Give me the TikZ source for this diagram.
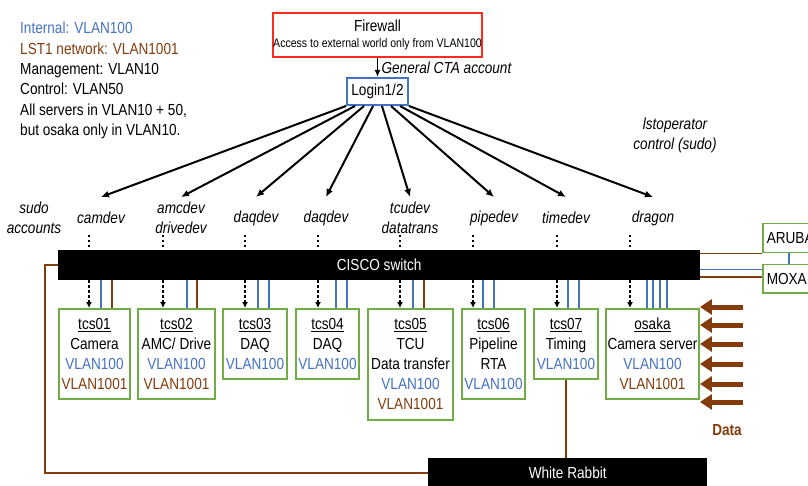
\documentclass[tikz,border=0pt]{standalone}
\usepackage{fontspec}
\setmainfont{Liberation Sans}[FakeStretch=0.85]
\usepackage{xcolor}
\usepackage{tikz}
\usetikzlibrary{arrows.meta,positioning,calc}

\definecolor{vlanblue}{HTML}{4472C4}
\definecolor{vlanbrown}{HTML}{843C0C}
\definecolor{boxgreen}{HTML}{70AD47}
\definecolor{fwred}{HTML}{FF2A1A}

\newcommand{\vlanint}{\textcolor{vlanblue}{VLAN100}}
\newcommand{\vlanlst}{\textcolor{vlanbrown}{VLAN1001}}

\begin{document}
\begin{tikzpicture}[x=1pt, y=-1pt, font=\fontsize{16}{20}\selectfont,
        server/.style={rectangle, draw=boxgreen, line width=1.8pt, align=center, anchor=north, inner xsep=1pt, inner ysep=0pt},
        account/.style={align=center, inner sep=2pt, font=\fontsize{16}{20}\selectfont\itshape},
        switchbar/.style={rectangle, fill=black, text=white, inner sep=0pt, anchor=north west, minimum height=30},
        endbox/.style={rectangle, draw=boxgreen, line width=1.5pt, anchor=north west, text width=48, align=left, inner xsep=4pt, inner ysep=0pt},
        fan/.style={-{Latex[length=8pt, width=7pt]}, line width=2pt},
        access/.style={line width=1.8pt, dash pattern=on 2.5pt off 2.5pt},
        link/.style={line width=1.5pt},
        datain/.style={-{Triangle[length=12pt, width=15pt]}, line width=5pt, vlanbrown}]

    \useasboundingbox (0,0) rectangle (808,486);

    % legend
    \node[anchor=north west, align=left, inner sep=0pt, font=\fontsize{16}{20.4}\selectfont] (legend) at (20,22)
        {\textcolor{vlanblue}{Internal: VLAN100}\\
         \textcolor{vlanbrown}{LST1 network: VLAN1001}\\
         Management: VLAN10\\
         Control: VLAN50\\
         All servers in VLAN10 + 50,\\
         but osaka only in VLAN10.};

    % firewall and login
    \node[draw=fwred, line width=2pt, minimum width=207, minimum height=44, inner sep=0pt, align=center] (firewall) at (377.5,35)
        {Firewall\\[-4.4pt]{\fontsize{12.4}{12}\selectfont Access to external world only from VLAN100}};
    \node[draw=vlanblue, line width=2pt, minimum width=61, minimum height=27, inner sep=0pt] (login) at (377.5,91.5) {Login1/2};
    \draw[-{Latex[length=7pt, width=6pt]}, line width=1.5pt] (firewall) -- (login)
        node[midway, right, font=\fontsize{16}{20}\selectfont\itshape] {General CTA account};

    % accounts
    \node[account] (sudo) at (34,218) {sudo\\accounts};
    \node[account] (camdev) at (101,218) {camdev};
    \node[account] (amcdev) at (181,218) {amcdev\\drivedev};
    \node[account] (daqdevA) at (256,218) {daqdev};
    \node[account] (daqdevB) at (326,218) {daqdev};
    \node[account] (tcudev) at (410,218) {tcudev\\datatrans};
    \node[account] (pipedev) at (494,218) {pipedev};
    \node[account] (timedev) at (566,218) {timedev};
    \node[account] (dragon) at (653,218) {dragon};
    \node[account] (lstop) at (675,135) {lstoperator\\control (sudo)};

    \foreach \acc/\f in {camdev/0, amcdev/0.143, daqdevA/0.286, daqdevB/0.429, tcudev/0.571, pipedev/0.714, timedev/0.857, dragon/1}
        \draw[fan] ($(login.south west)!\f!(login.south east)$) -- ([yshift=21pt]\acc.center);

    % switch and servers
    \node[switchbar, minimum width=642] (cisco) at (58,250) {CISCO switch};

    \node[server, minimum width=71, minimum height=90] (tcs01) at (94.5,308) {\underline{tcs01}\\Camera\\\vlanint\\\vlanlst};
    \node[server, minimum width=77, minimum height=90] (tcs02) at (176.5,308) {\underline{tcs02}\\AMC/ Drive\\\vlanint\\\vlanlst};
    \node[server, minimum width=64, minimum height=70] (tcs03) at (255,308) {\underline{tcs03}\\DAQ\\\vlanint};
    \node[server, minimum width=63, minimum height=70] (tcs04) at (327.5,308) {\underline{tcs04}\\DAQ\\\vlanint};
    \node[server, minimum width=85, minimum height=111] (tcs05) at (410.5,308) {\underline{tcs05}\\TCU\\Data transfer\\\vlanint\\\vlanlst};
    \node[server, minimum width=63, minimum height=90] (tcs06) at (493.5,308) {\underline{tcs06}\\Pipeline\\RTA\\\vlanint};
    \node[server, minimum width=64, minimum height=70] (tcs07) at (566,308) {\underline{tcs07}\\Timing\\\vlanint};
    \node[server, minimum width=93, minimum height=90] (osaka) at (652.5,308) {\underline{osaka}\\Camera server\\\vlanint\\\vlanlst};

    \foreach \srv/\dx in {tcs01/89, tcs02/163, tcs03/245, tcs04/318, tcs05/400, tcs06/473, tcs07/557, osaka/630} {
        \draw[access] ($(\dx,0 |- cisco.north)+(0,-15)$) -- (\dx,0 |- cisco.north);
        \draw[access, -{Latex[length=6pt, width=6pt]}] (\dx,0 |- cisco.south) -- (\dx,0 |- \srv.north);
    }

    \foreach \x/\srv/\col in {101/tcs01/vlanblue, 112/tcs01/vlanbrown, 187/tcs02/vlanblue, 197/tcs02/vlanbrown,
            258/tcs03/vlanblue, 269/tcs03/vlanblue, 336/tcs04/vlanblue, 347/tcs04/vlanblue,
            413/tcs05/vlanblue, 424/tcs05/vlanbrown, 483/tcs06/vlanblue, 494/tcs06/vlanblue,
            568/tcs07/vlanblue, 579/tcs07/vlanblue, 647/osaka/vlanblue, 653/osaka/vlanblue,
            660/osaka/vlanblue, 667/osaka/vlanblue}
        \draw[link, \col] (\x,0 |- cisco.south) -- (\x,0 |- \srv.north);

    % uplinks
    \node[endbox, minimum height=29] (aruba) at (762,223) {ARUBA};
    \node[endbox, minimum height=28] (moxa) at (762,264) {MOXA};
    \draw[link, vlanbrown] (aruba.south west -| cisco.east) -- (aruba.south west);
    \draw[link, vlanblue] ($(moxa.west -| cisco.east)+(0,-9)$) -- ($(moxa.west)+(0,-9)$);
    \draw[link, vlanbrown] ($(moxa.west -| cisco.east)+(0,-2)$) -- ($(moxa.west)+(0,-2)$);
    \draw[link, vlanblue] ($(aruba.south west)+(27,0)$) -- ($(moxa.north west)+(27,0)$);

    % data input
    \foreach \y in {307,325,344,364,384,402}
        \draw[datain] (743,\y) -- (osaka.east |- 0,\y);
    \node[font=\fontsize{16}{20}\selectfont\bfseries, text=vlanbrown] (data) at (727,430) {Data};

    % timing
    \node[switchbar, minimum width=279] (wr) at (428,458) {White Rabbit};
    \draw[link, vlanbrown] (tcs07.south) -- (tcs07.south |- wr.north);
    \draw[link, vlanbrown] (cisco.west) -- ++(-13,0) |- (wr.west);

\end{tikzpicture}
\end{document}
